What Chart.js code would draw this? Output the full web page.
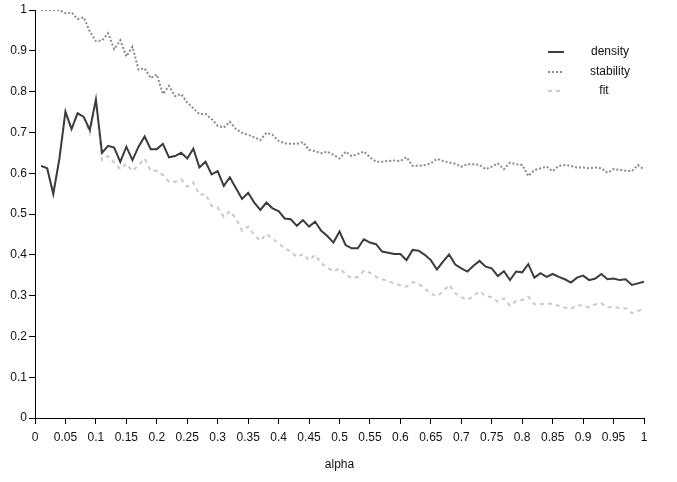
<!DOCTYPE html>
<html>
<head>
<meta charset="utf-8">
<script src="https://cdn.jsdelivr.net/npm/chart.js@4/dist/chart.umd.min.js"></script>
<style>
    html, body { margin: 0; padding: 0; background: #fff; }
    #wrap { width: 677px; height: 482px; }
</style>
</head>
<body>
<div id="wrap"><canvas id="alphaChart" width="677" height="482"></canvas></div>
<script>
const alpha = [
    0.01, 0.02, 0.03, 0.04, 0.05, 0.06, 0.07, 0.08, 0.09, 0.10,
    0.11, 0.12, 0.13, 0.14, 0.15, 0.16, 0.17, 0.18, 0.19, 0.20,
    0.21, 0.22, 0.23, 0.24, 0.25, 0.26, 0.27, 0.28, 0.29, 0.30,
    0.31, 0.32, 0.33, 0.34, 0.35, 0.36, 0.37, 0.38, 0.39, 0.40,
    0.41, 0.42, 0.43, 0.44, 0.45, 0.46, 0.47, 0.48, 0.49, 0.50,
    0.51, 0.52, 0.53, 0.54, 0.55, 0.56, 0.57, 0.58, 0.59, 0.60,
    0.61, 0.62, 0.63, 0.64, 0.65, 0.66, 0.67, 0.68, 0.69, 0.70,
    0.71, 0.72, 0.73, 0.74, 0.75, 0.76, 0.77, 0.78, 0.79, 0.80,
    0.81, 0.82, 0.83, 0.84, 0.85, 0.86, 0.87, 0.88, 0.89, 0.90,
    0.91, 0.92, 0.93, 0.94, 0.95, 0.96, 0.97, 0.98, 0.99, 1.00
];

const density = [
    0.618, 0.612, 0.549, 0.635, 0.751, 0.708, 0.747, 0.738, 0.706, 0.781,
    0.650, 0.667, 0.663, 0.628, 0.665, 0.632, 0.665, 0.690, 0.659, 0.659,
    0.672, 0.639, 0.642, 0.650, 0.636, 0.660, 0.614, 0.628, 0.597, 0.605,
    0.569, 0.590, 0.563, 0.537, 0.552, 0.528, 0.510, 0.528, 0.514, 0.507,
    0.489, 0.487, 0.471, 0.485, 0.469, 0.481, 0.459, 0.446, 0.430, 0.457,
    0.424, 0.416, 0.416, 0.438, 0.430, 0.426, 0.408, 0.405, 0.402, 0.402,
    0.387, 0.412, 0.410, 0.400, 0.387, 0.364, 0.383, 0.401, 0.376, 0.367,
    0.359, 0.373, 0.385, 0.371, 0.367, 0.348, 0.360, 0.338, 0.359, 0.357,
    0.377, 0.344, 0.355, 0.346, 0.353, 0.346, 0.340, 0.332, 0.344, 0.349,
    0.338, 0.342, 0.353, 0.340, 0.342, 0.338, 0.340, 0.326, 0.330, 0.334
];

const stability = [
    1.000, 1.000, 1.000, 1.000, 0.992, 0.994, 0.978, 0.982, 0.947, 0.924,
    0.925, 0.943, 0.904, 0.926, 0.886, 0.910, 0.854, 0.857, 0.833, 0.842,
    0.794, 0.814, 0.789, 0.794, 0.773, 0.759, 0.745, 0.745, 0.733, 0.716,
    0.712, 0.726, 0.708, 0.699, 0.694, 0.688, 0.681, 0.699, 0.694, 0.679,
    0.673, 0.672, 0.672, 0.676, 0.657, 0.654, 0.649, 0.653, 0.645, 0.636,
    0.653, 0.642, 0.647, 0.653, 0.639, 0.628, 0.628, 0.630, 0.631, 0.630,
    0.639, 0.618, 0.618, 0.620, 0.624, 0.635, 0.630, 0.626, 0.623, 0.616,
    0.622, 0.622, 0.620, 0.610, 0.616, 0.624, 0.610, 0.626, 0.622, 0.620,
    0.593, 0.608, 0.612, 0.616, 0.605, 0.618, 0.620, 0.618, 0.614, 0.614,
    0.612, 0.614, 0.612, 0.601, 0.610, 0.608, 0.606, 0.605, 0.620, 0.609
];

const fit = [
    0.618, 0.612, 0.549, 0.635, 0.751, 0.708, 0.747, 0.738, 0.698, 0.775,
    0.632, 0.642, 0.626, 0.610, 0.623, 0.605, 0.620, 0.636, 0.606, 0.606,
    0.596, 0.579, 0.579, 0.585, 0.567, 0.577, 0.547, 0.549, 0.520, 0.516,
    0.493, 0.507, 0.489, 0.459, 0.469, 0.449, 0.434, 0.451, 0.440, 0.428,
    0.416, 0.408, 0.394, 0.402, 0.387, 0.400, 0.379, 0.369, 0.359, 0.367,
    0.353, 0.342, 0.346, 0.361, 0.356, 0.346, 0.340, 0.335, 0.330, 0.325,
    0.322, 0.333, 0.328, 0.318, 0.305, 0.298, 0.310, 0.326, 0.306, 0.296,
    0.289, 0.299, 0.311, 0.299, 0.296, 0.285, 0.293, 0.275, 0.287, 0.289,
    0.297, 0.279, 0.279, 0.281, 0.279, 0.275, 0.271, 0.267, 0.277, 0.275,
    0.271, 0.279, 0.281, 0.271, 0.273, 0.269, 0.269, 0.257, 0.263, 0.266
];

const xTicks = [0, 0.05, 0.1, 0.15, 0.2, 0.25, 0.3, 0.35, 0.4, 0.45, 0.5,
    0.55, 0.6, 0.65, 0.7, 0.75, 0.8, 0.85, 0.9, 0.95, 1];
const yTicks = [0, 0.1, 0.2, 0.3, 0.4, 0.5, 0.6, 0.7, 0.8, 0.9, 1];

const toPoints = values => values.map((v, i) => ({ x: alpha[i], y: v }));

// legende desenhada dentro da area do grafico, como no original
const sideLegend = {
    id: 'sideLegend',
    afterDraw(chart) {
        const ctx = chart.ctx;
        const rows = [52, 72, 91];
        ctx.save();
        ctx.font = '12px "Liberation Sans", Arial, sans-serif';
        ctx.fillStyle = '#111';
        ctx.textAlign = 'center';
        ctx.textBaseline = 'middle';
        chart.data.datasets.forEach((ds, i) => {
            const y = rows[i];
            ctx.strokeStyle = ds.borderColor;
            ctx.lineWidth = ds.borderWidth;
            ctx.setLineDash(ds.borderDash || []);
            ctx.beginPath();
            ctx.moveTo(548, y);
            ctx.lineTo(564, y);
            ctx.stroke();
            ctx.setLineDash([]);
            ctx.fillText(ds.label, i === 2 ? 604 : 610, y);
        });
        ctx.restore();
    }
};

Chart.defaults.font.family = '"Liberation Sans", Arial, sans-serif';
Chart.defaults.font.size = 12;
Chart.defaults.color = '#111';

new Chart(document.getElementById('alphaChart'), {
    type: 'line',
    data: {
        datasets: [{
            label: 'density',
            data: toPoints(density),
            borderColor: '#3c3c3c',
            borderWidth: 2,
            pointRadius: 0,
            tension: 0
        }, {
            label: 'stability',
            data: toPoints(stability),
            borderColor: '#8a8a8a',
            borderWidth: 2,
            borderDash: [2, 2],
            pointRadius: 0,
            tension: 0
        }, {
            label: 'fit',
            data: toPoints(fit),
            borderColor: '#cacaca',
            borderWidth: 2,
            borderDash: [4, 4],
            pointRadius: 0,
            tension: 0
        }]
    },
    options: {
        responsive: false,
        animation: false,
        layout: { padding: { top: 10, right: 33, left: 0, bottom: 10 } },
        plugins: {
            legend: { display: false },
            tooltip: { enabled: false }
        },
        scales: {
            x: {
                type: 'linear',
                min: 0,
                max: 1,
                afterBuildTicks: scale => { scale.ticks = xTicks.map(v => ({ value: v })); },
                afterFit: scale => { scale.height = 54; },
                ticks: {
                    padding: 6,
                    maxRotation: 0,
                    autoSkip: false,
                    callback: value => String(value)
                },
                grid: { drawOnChartArea: false, drawTicks: true, tickLength: 6, color: '#000' },
                border: { color: '#000', width: 1 },
                title: { display: true, text: 'alpha', padding: { top: 14, bottom: 0 } }
            },
            y: {
                min: 0,
                max: 1,
                afterBuildTicks: scale => { scale.ticks = yTicks.map(v => ({ value: v })); },
                afterFit: scale => { scale.width = 35; },
                ticks: {
                    padding: 2,
                    callback: value => String(value)
                },
                grid: { drawOnChartArea: false, drawTicks: true, tickLength: 6, color: '#000' },
                border: { color: '#000', width: 1 }
            }
        }
    },
    plugins: [sideLegend]
});
</script>
</body>
</html>
